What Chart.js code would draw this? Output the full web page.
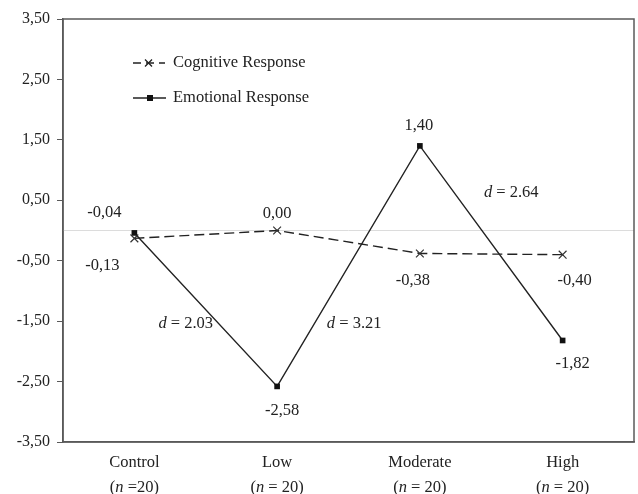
<!DOCTYPE html>
<html>
<head>
<meta charset="utf-8">
<script src="https://cdn.jsdelivr.net/npm/chart.js@4/dist/chart.umd.min.js"></script>
<style>
html,body{margin:0;padding:0;background:#fff;}
#wrap{width:638px;height:494px;position:relative;}
</style>
</head>
<body>
<div id="wrap"><canvas id="c" width="638" height="494"></canvas></div>
<script>
const categories = ['Control', 'Low', 'Moderate', 'High'];
const groupSizes = ['(n =20)', '(n = 20)', '(n = 20)', '(n = 20)'];
const cognitive = [-0.13, 0.00, -0.38, -0.40];
const emotional = [-0.04, -2.58, 1.40, -1.82];
const yTicks = [-3.5, -2.5, -1.5, -0.5, 0.5, 1.5, 2.5, 3.5];
const effectSizes = ['2.03', '3.21', '2.64'];
const seriesNames = ['Cognitive Response', 'Emotional Response'];

// label placement offsets (pixels) relative to each point
const cogOffsets = [[-32, 27], [0, -17], [-7, 27], [12, 26]];
const emoOffsets = [[-30, -20], [5, 24], [-1, -20], [10, 23]];
// effect-size annotation anchor positions (category index, y value)
const effectPos = [[0.36, -1.54], [1.54, -1.54], [2.64, 0.63]];

const FONT = '"Liberation Serif", "Times New Roman", serif';
const TXT = '#222';
const FS = '16.5px ';
const fmt = v => v.toFixed(2).replace('.', ',');

const overlay = {
  id: 'overlay',
  beforeDatasetsDraw(chart) {
    const {ctx, chartArea: a, scales: {y}} = chart;
    ctx.save();
    const y0 = y.getPixelForValue(0);
    ctx.strokeStyle = '#dcdcdc';
    ctx.lineWidth = 1;
    ctx.beginPath(); ctx.moveTo(a.left, y0); ctx.lineTo(a.right, y0); ctx.stroke();
    ctx.restore();
  },
  afterDraw(chart) {
    const {ctx, chartArea: a, scales: {x, y}} = chart;
    ctx.save();
    // frame
    ctx.strokeStyle = '#5a5a5a';
    ctx.lineWidth = 1.5;
    ctx.strokeRect(a.left, a.top, a.right - a.left, a.bottom - a.top);

    ctx.fillStyle = TXT;
    ctx.textBaseline = 'middle';
    ctx.textAlign = 'center';
    ctx.font = FS + FONT;
    // value labels
    cognitive.forEach((v, i) => {
      ctx.fillText(fmt(v), x.getPixelForValue(i) + cogOffsets[i][0], y.getPixelForValue(v) + cogOffsets[i][1]);
    });
    emotional.forEach((v, i) => {
      ctx.fillText(fmt(v), x.getPixelForValue(i) + emoOffsets[i][0], y.getPixelForValue(v) + emoOffsets[i][1]);
    });

    // mixed italic helper
    function mixed(parts, cx, cy) {
      let w = 0;
      parts.forEach(p => { ctx.font = (p[1] ? 'italic ' : '') + FS + FONT; w += ctx.measureText(p[0]).width; });
      let xx = cx - w / 2;
      ctx.textAlign = 'left';
      parts.forEach(p => {
        ctx.font = (p[1] ? 'italic ' : '') + FS + FONT;
        ctx.fillText(p[0], xx, cy);
        xx += ctx.measureText(p[0]).width;
      });
      ctx.textAlign = 'center';
    }
    // effect sizes
    effectSizes.forEach((d, i) => {
      mixed([['d', true], [' = ' + d, false]], x.getPixelForValue(effectPos[i][0]), y.getPixelForValue(effectPos[i][1]));
    });
    // group sizes (second line of x labels)
    groupSizes.forEach((g, i) => {
      const m = g.match(/^\((n)(.*)\)$/);
      mixed([['(', false], [m[1], true], [m[2] + ')', false]], x.getPixelForValue(i), a.bottom + 46);
    });

    // legend
    const lx = 133, ly1 = 63, ly2 = 98;
    ctx.strokeStyle = '#222';
    ctx.lineWidth = 1.3;
    ctx.setLineDash([8, 5]);
    ctx.beginPath(); ctx.moveTo(lx, ly1); ctx.lineTo(lx + 32, ly1); ctx.stroke();
    ctx.setLineDash([]);
    ctx.beginPath();
    ctx.moveTo(lx + 12, ly1 - 3.5); ctx.lineTo(lx + 19, ly1 + 3.5);
    ctx.moveTo(lx + 12, ly1 + 3.5); ctx.lineTo(lx + 19, ly1 - 3.5);
    ctx.stroke();
    ctx.beginPath(); ctx.moveTo(lx, ly2); ctx.lineTo(lx + 33, ly2); ctx.stroke();
    ctx.fillStyle = '#111';
    ctx.fillRect(lx + 14, ly2 - 3, 6, 6);
    ctx.fillStyle = TXT;
    ctx.textAlign = 'left';
    ctx.font = FS + FONT;
    ctx.fillText(seriesNames[0], 173, ly1);
    ctx.fillText(seriesNames[1], 173, ly2);
    ctx.restore();
  }
};

new Chart(document.getElementById('c'), {
  type: 'line',
  data: {
    labels: categories,
    datasets: [
      {
        label: seriesNames[0],
        data: cognitive,
        borderColor: '#222',
        borderWidth: 1.4,
        borderDash: [10, 5],
        tension: 0,
        fill: false,
        pointStyle: 'crossRot',
        pointRadius: 5.5,
        pointBorderWidth: 1.2,
        pointBorderColor: '#333',
        pointBackgroundColor: '#333'
      },
      {
        label: seriesNames[1],
        data: emotional,
        borderColor: '#222',
        borderWidth: 1.4,
        tension: 0,
        fill: false,
        pointStyle: 'rect',
        pointRadius: 4,
        pointBorderWidth: 0,
        pointBackgroundColor: '#111'
      }
    ]
  },
  options: {
    responsive: false,
    animation: false,
    devicePixelRatio: 1,
    layout: {autoPadding: false, padding: {top: 19, right: 4, left: 0, bottom: 0}},
    plugins: {legend: {display: false}, tooltip: {enabled: false}},
    scales: {
      x: {
        offset: true,
        grid: {display: false},
        border: {display: true, color: '#5a5a5a', width: 1.5},
        ticks: {color: TXT, font: {family: FONT, size: 16.5}, padding: 3, maxRotation: 0},
        afterFit(s) { s.height = 52; }
      },
      y: {
        min: -3.5,
        max: 3.5,
        afterBuildTicks(s) { s.ticks = yTicks.map(v => ({value: v})); },
        grid: {drawOnChartArea: false, color: '#5a5a5a', tickLength: 6, lineWidth: 1},
        border: {display: true, color: '#5a5a5a', width: 1.5},
        ticks: {color: TXT, font: {family: FONT, size: 16}, padding: 7, callback: v => fmt(v)},
        afterFit(s) { s.width = 63; }
      }
    }
  },
  plugins: [overlay]
});
</script>
</body>
</html>
